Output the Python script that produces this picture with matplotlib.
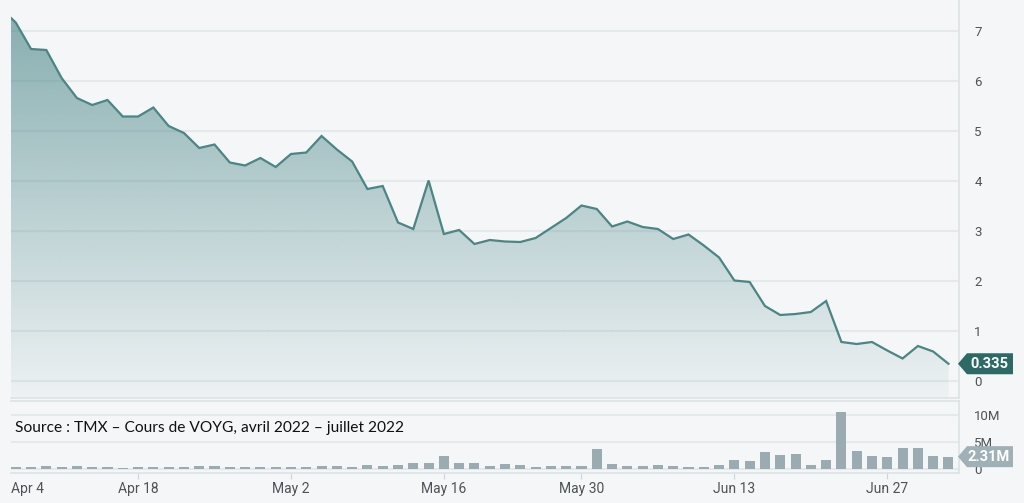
import numpy as np
import matplotlib
matplotlib.use("Agg")
import matplotlib.pyplot as plt
from matplotlib.patches import Polygon
from matplotlib.transforms import IdentityTransform

# trading days, first entry = Apr 4 (partly cut off on the left)
prix = [7.45, 7.16, 6.63, 6.61, 6.05, 5.65, 5.51, 5.61, 5.28, 5.28,
        5.46, 5.09, 4.95, 4.65, 4.72, 4.36, 4.30, 4.45, 4.27, 4.53,
        4.56, 4.89, 4.62, 4.38, 3.83, 3.89, 3.16, 3.03, 4.00, 2.93,
        3.01, 2.73, 2.81, 2.78, 2.77, 2.85, 3.05, 3.25, 3.50, 3.43,
        3.08, 3.18, 3.07, 3.03, 2.83, 2.92, 2.70, 2.46, 2.00, 1.97,
        1.49, 1.31, 1.33, 1.37, 1.59, 0.77, 0.73, 0.77, 0.60, 0.44,
        0.69, 0.58, 0.335]

# volume en millions
volume = [0.40, 0.35, 0.35, 0.60, 0.35, 0.60, 0.35, 0.35, 0.25, 0.35,
          0.35, 0.35, 0.35, 0.55, 0.55, 0.35, 0.35, 0.40, 0.40, 0.40,
          0.40, 0.50, 0.50, 0.30, 0.70, 0.55, 0.80, 1.15, 1.05, 2.35,
          1.05, 1.05, 0.60, 0.95, 0.72, 0.43, 0.55, 0.55, 0.55, 3.83,
          0.86, 0.55, 0.60, 0.74, 0.55, 0.43, 0.43, 0.80, 1.60, 1.48,
          3.10, 2.60, 2.72, 0.74, 1.60, 10.6, 3.46, 2.40, 2.22, 4.00,
          4.00, 2.47, 2.31]

tick_pos = [0, 9, 19, 29, 38, 48, 58]
tick_txt = ["Apr 4", "Apr 18", "May 2", "May 16", "May 30", "Jun 13", "Jun 27"]

prix_ticks = [0, 1, 2, 3, 4, 5, 6, 7]
vol_ticks = [0, 5, 10]
vol_tick_txt = ["0", "5M", "10M"]

source = "Source : TMX \u2013 Cours de VOYG, avril 2022 \u2013 juillet 2022"

W, H = 1024, 503
bg = "#f4f6f8"
ligne = "#4b8584"
grille = "#e4e9eb"
txtcol = "#4d5356"

fig = plt.figure(figsize=(W / 100, H / 100), dpi=100)
fig.patch.set_facecolor(bg)

def rect(x0, y0, x1, y1):
    return [x0 / W, 1 - y1 / H, (x1 - x0) / W, (y1 - y0) / H]

x = np.arange(len(prix))
xlim = (0.69, 62.69)

# ---- price panel
ax = fig.add_axes(rect(11, 0, 959, 398))
ax.set_facecolor(bg)
ax.set_xlim(*xlim)
ax.set_ylim(-0.35, 7.61)

verts = [(x[0], -0.35)] + list(zip(x, prix)) + [(x[-1], -0.35)]
poly = Polygon(verts, closed=True, facecolor="none", edgecolor="none")
ax.add_patch(poly)
grad = np.linspace(0.62, 0.04, 256).reshape(-1, 1)
rgba = np.zeros((256, 1, 4))
rgba[..., 0] = 0x3f / 255
rgba[..., 1] = 0x7f / 255
rgba[..., 2] = 0x80 / 255
rgba[..., 3] = grad
im = ax.imshow(rgba, extent=[xlim[0], xlim[1], -0.35, 7.61], aspect="auto",
               origin="upper", zorder=1, interpolation="bilinear")
im.set_clip_path(poly)
ax.plot(x, prix, color=ligne, lw=1.6, zorder=3, solid_joinstyle="miter")

ax.set_yticks(prix_ticks)
ax.yaxis.tick_right()
ax.tick_params(axis="y", length=0, pad=11, labelsize=9.5, labelcolor=txtcol)
for t in ax.get_yticklabels():
    t.set_fontfamily("Roboto")
ax.set_xticks([])
ax.grid(axis="y", color=grille, lw=1.5)
ax.set_axisbelow(True)
for s in ["top", "left"]:
    ax.spines[s].set_visible(False)
for s in ["right", "bottom"]:
    ax.spines[s].set_color("#dde2e5")
    ax.spines[s].set_linewidth(1.2)

# ---- volume panel
av = fig.add_axes(rect(11, 401, 959, 473))
av.set_facecolor(bg)
av.set_xlim(*xlim)
av.set_ylim(-0.74, 12.7)
av.bar(x, volume, width=0.66, bottom=0, color="#9aabb2", zorder=2)
av.set_yticks(vol_ticks)
av.set_yticklabels(vol_tick_txt)
av.yaxis.tick_right()
av.tick_params(axis="y", length=0, pad=11, labelsize=9.5, labelcolor=txtcol)
for t in av.get_yticklabels():
    t.set_fontfamily("Roboto")
av.grid(axis="y", color=grille, lw=1.5)
av.set_axisbelow(True)
av.spines["left"].set_visible(False)
for s in ["top", "right", "bottom"]:
    av.spines[s].set_color("#dde2e5")
    av.spines[s].set_linewidth(1.2)

# x ticks, labels clamped to the panel like the original
inside = [p for p in tick_pos if xlim[0] <= p <= xlim[1]]
av.set_xticks(inside)
av.set_xticklabels([])
av.tick_params(axis="x", length=4, color="#cfd5d8")
for p, lab in zip(tick_pos, tick_txt):
    if p < xlim[0]:
        av.text(0.0, -0.22, lab, transform=av.transAxes, ha="left", va="center",
                fontsize=10, color=txtcol, family="Roboto")
    else:
        av.text(p, -0.22, lab, transform=av.get_xaxis_transform(), ha="center",
                va="center", fontsize=10, color=txtcol, family="Roboto")

fig.text(15 / W, 1 - 428 / H, source, fontsize=11.15, family="Lato",
         color="#111111", va="center", ha="left")

# value tags on the right axis
def tag(axe, yval, texte, couleur):
    tip = axe.transAxes.transform((1, 0))[0] - 1
    _, py = axe.transData.transform((x[-1], yval))
    h = 10.5
    pts = [(tip, py), (tip + 9, py + h), (tip + 55, py + h),
           (tip + 55, py - h), (tip + 9, py - h)]
    fig.add_artist(Polygon(pts, closed=True, facecolor=couleur,
                           edgecolor="none", transform=IdentityTransform(),
                           zorder=10))
    fig.text((tip + 31) / W, py / H, texte, color="white", fontsize=10.5,
             family="Roboto", weight="bold", ha="center", va="center",
             zorder=11)

tag(ax, prix[-1], "0.335", "#2d6a66")
tag(av, volume[-1], "2.31M", "#9fb0b6")

fig.savefig("out.png", dpi=100, facecolor=bg)
